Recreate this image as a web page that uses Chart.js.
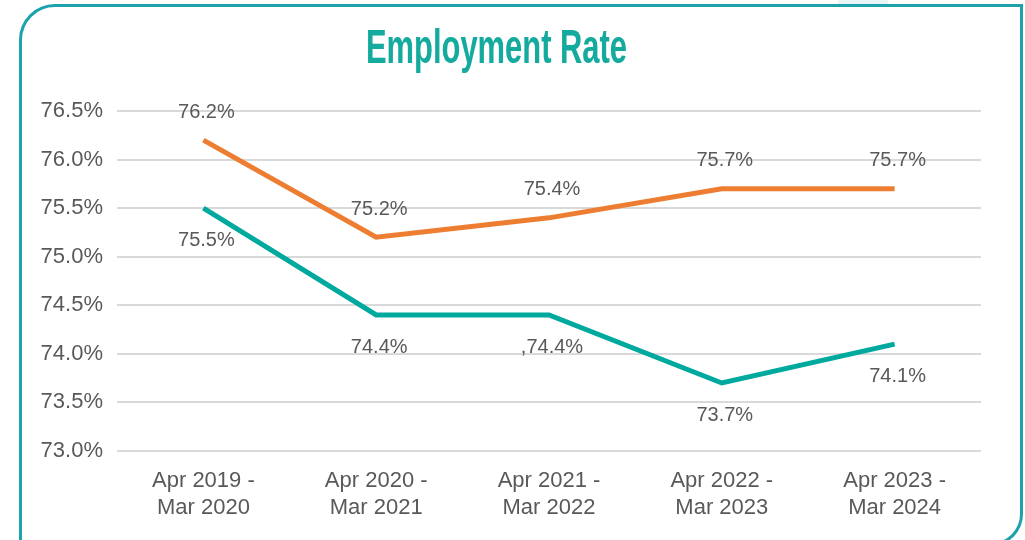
<!DOCTYPE html>
<html lang="en">
<head>
    <meta charset="UTF-8">
    <title>Employment Rate</title>
    <script src="https://cdn.jsdelivr.net/npm/chart.js"></script>
    <style>
        html, body { margin: 0; padding: 0; background: #fff; }
        #wrap { position: relative; width: 1025px; height: 540px; overflow: hidden; }
        #frame {
            position: absolute; left: 19px; top: 4px; width: 998px; height: 536px;
            border: 3px solid #1ba2ac; border-radius: 36px 0 32px 0;
            pointer-events: none;
        }
        #tab { position: absolute; left: 838px; top: 0; width: 50px; height: 5px; background: #eaf5f8; }
        #box { position: absolute; left: 0; top: 0; width: 1025px; height: 540px; }
    </style>
</head>
<body>
<div id="wrap">
    <div id="tab"></div>
    <div id="box"><canvas id="myChart" width="1025" height="540"></canvas></div>
    <div id="frame"></div>
</div>

<script>
const periods = [['Apr 2019 -', 'Mar 2020'], ['Apr 2020 -', 'Mar 2021'], ['Apr 2021 -', 'Mar 2022'], ['Apr 2022 -', 'Mar 2023'], ['Apr 2023 -', 'Mar 2024']];
const orangeValues = [76.2, 75.2, 75.4, 75.7, 75.7];
const tealValues = [75.5, 74.4, 74.4, 73.7, 74.1];
const orangeLabels = ['76.2%', '75.2%', '75.4%', '75.7%', '75.7%'];
const tealLabels = ['75.5%', '74.4%', ',74.4%', '73.7%', '74.1%'];
const chartTitle = 'Employment Rate';

const textColor = '#595959';
const font = 'Liberation Sans, Arial, sans-serif';

// condensed title: draw bold text squeezed horizontally to fit the original width
const condensedTitle = {
    id: 'condensedTitle',
    afterDraw(chart) {
        const ctx = chart.ctx;
        ctx.save();
        ctx.font = 'bold 49px ' + font;
        ctx.fillStyle = '#14AA9D';
        ctx.textAlign = 'center';
        ctx.textBaseline = 'alphabetic';
        const w = ctx.measureText(chartTitle).width;
        const sx = 261 / w;
        ctx.translate(496.5, 63);
        ctx.scale(sx, 1);
        ctx.fillText(chartTitle, 0, 0);
        ctx.restore();
    }
};

// value labels above (orange) / below (teal) each point
const pointLabels = {
    id: 'pointLabels',
    afterDatasetsDraw(chart) {
        const ctx = chart.ctx;
        ctx.save();
        ctx.font = '20px ' + font;
        ctx.fillStyle = textColor;
        ctx.textAlign = 'center';
        ctx.textBaseline = 'middle';
        chart.data.datasets.forEach((ds, i) => {
            const meta = chart.getDatasetMeta(i);
            meta.data.forEach((pt, j) => {
                const dy = ds.labelSide === 'above' ? -28 : 32;
                ctx.fillText(ds.pointText[j], pt.x + 3, pt.y + dy);
            });
        });
        ctx.restore();
    }
};

const ctx = document.getElementById('myChart').getContext('2d');
new Chart(ctx, {
    type: 'line',
    data: {
        labels: periods,
        datasets: [{
            data: orangeValues,
            pointText: orangeLabels,
            labelSide: 'above',
            borderColor: '#ED7D31',
            borderWidth: 5,
            pointRadius: 0,
            tension: 0,
            fill: false
        }, {
            data: tealValues,
            pointText: tealLabels,
            labelSide: 'below',
            borderColor: '#00A99D',
            borderWidth: 5,
            pointRadius: 0,
            tension: 0,
            fill: false
        }]
    },
    options: {
        responsive: false,
        animation: false,
        layout: { padding: { left: 20, right: 44, top: 111, bottom: 9 } },
        plugins: {
            legend: { display: false },
            tooltip: { enabled: false },
            title: { display: false }
        },
        scales: {
            x: {
                offset: true,
                grid: { display: false },
                border: { display: false },
                ticks: {
                    color: textColor,
                    font: { family: font, size: 22, lineHeight: 1.2 },
                    padding: 9,
                    maxRotation: 0
                },
                afterFit(scale) { scale.height = 80; }
            },
            y: {
                min: 73,
                max: 76.5,
                grid: { color: '#d9d9d9', lineWidth: 2, drawTicks: false },
                border: { display: false },
                ticks: {
                    stepSize: 0.5,
                    color: textColor,
                    font: { family: font, size: 22 },
                    padding: 14,
                    callback: v => v.toFixed(1) + '%'
                },
                afterFit(scale) { scale.width = 97; }
            }
        }
    },
    plugins: [pointLabels, condensedTitle]
});
</script>

</body>
</html>
